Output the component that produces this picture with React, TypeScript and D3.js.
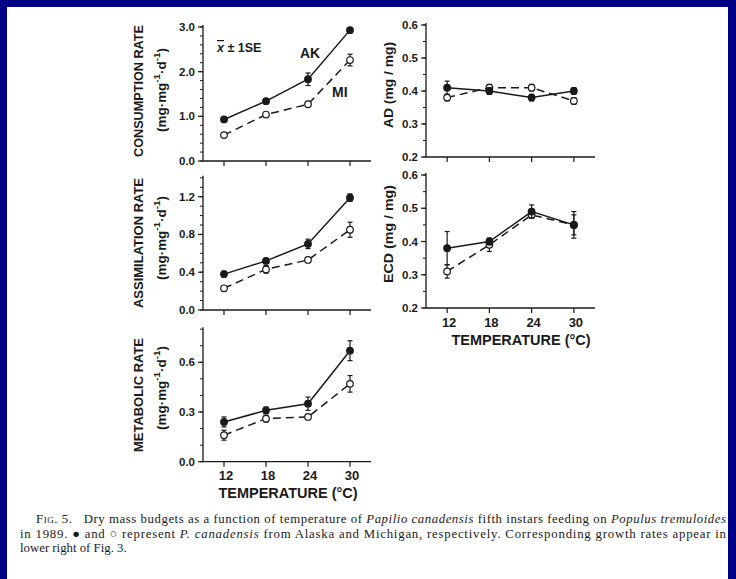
import React from 'react';
import * as d3 from 'd3';

// temperatures (°C)
const temps = [12, 18, 24, 30];

// consumption rate (mg·mg-1·d-1)
const consAK = [0.93, 1.34, 1.83, 2.93];
const consAKse = [0.05, 0.03, 0.14, 0.05];
const consMI = [0.58, 1.04, 1.27, 2.26];
const consMIse = [0.04, 0.03, 0.04, 0.13];

// assimilation rate
const assimAK = [0.38, 0.52, 0.7, 1.19];
const assimAKse = [0.03, 0.02, 0.05, 0.04];
const assimMI = [0.23, 0.43, 0.53, 0.85];
const assimMIse = [0.02, 0.04, 0.02, 0.08];

// metabolic rate
const metabAK = [0.24, 0.31, 0.35, 0.67];
const metabAKse = [0.03, 0.02, 0.04, 0.06];
const metabMI = [0.16, 0.26, 0.27, 0.47];
const metabMIse = [0.03, 0.02, 0.01, 0.05];

// AD (mg / mg)
const adAK = [0.41, 0.4, 0.38, 0.4];
const adAKse = [0.02, 0.01, 0.01, 0.01];
const adMI = [0.38, 0.41, 0.41, 0.37];
const adMIse = [0.01, 0.01, 0.01, 0.01];

// ECD (mg / mg)
const ecdAK = [0.38, 0.4, 0.49, 0.45];
const ecdAKse = [0.05, 0.01, 0.02, 0.04];
const ecdMI = [0.31, 0.39, 0.48, 0.45];
const ecdMIse = [0.02, 0.02, 0.01, 0.03];

const consTicks = [0, 1, 2, 3];
const assimTicks = [0, 0.4, 0.8, 1.2];
const metabTicks = [0, 0.3, 0.6];
const ratioTicks = [0.2, 0.3, 0.4, 0.5, 0.6];

const SANS = '"Liberation Sans", Arial, sans-serif';
const SERIF = '"Liberation Serif", "Times New Roman", serif';
const INK = '#1a1a1a';

const fmt = d3.format('.1f');

function Series({ x, y, vals, se, open }) {
  const line = d3
    .line()
    .x((d, i) => x(temps[i]))
    .y((d) => y(d));
  return (
    <g>
      <path
        d={line(vals)}
        fill="none"
        stroke={INK}
        strokeWidth={1.5}
        strokeDasharray={open ? '8,5' : null}
      />
      {vals.map((v, i) => (
        <g key={i}>
          <line x1={x(temps[i])} x2={x(temps[i])} y1={y(v - se[i])} y2={y(v + se[i])} stroke={INK} strokeWidth={1.2} />
          <line x1={x(temps[i]) - 2.5} x2={x(temps[i]) + 2.5} y1={y(v - se[i])} y2={y(v - se[i])} stroke={INK} strokeWidth={1.2} />
          <line x1={x(temps[i]) - 2.5} x2={x(temps[i]) + 2.5} y1={y(v + se[i])} y2={y(v + se[i])} stroke={INK} strokeWidth={1.2} />
          <circle
            cx={x(temps[i])}
            cy={y(v)}
            r={3.3}
            fill={open ? '#fff' : INK}
            stroke={INK}
            strokeWidth={1.2}
          />
        </g>
      ))}
    </g>
  );
}

function Panel({ xRange, yDomain, yRange, top, ticks, minor, xLabels, ak, akSe, mi, miSe }) {
  const x = d3.scaleLinear().domain([9, 33]).range(xRange);
  const y = d3.scaleLinear().domain(yDomain).range(yRange);
  const minorTicks = d3.range(yDomain[0], top + 1e-9, minor);
  const x0 = xRange[0];
  const yb = y(yDomain[0]);
  return (
    <g>
      <line x1={x0} x2={x0} y1={y(top) - 2} y2={yb} stroke={INK} strokeWidth={1.3} />
      <line x1={x0} x2={xRange[1]} y1={yb} y2={yb} stroke={INK} strokeWidth={1.3} />
      {minorTicks.map((t, i) => (
        <line key={'m' + i} x1={x0 - 3} x2={x0} y1={y(t)} y2={y(t)} stroke={INK} strokeWidth={1} />
      ))}
      {ticks.map((t) => (
        <g key={t}>
          <line x1={x0 - 5} x2={x0} y1={y(t)} y2={y(t)} stroke={INK} strokeWidth={1.2} />
          <text
            x={x0 - 8}
            y={y(t)}
            textAnchor="end"
            dominantBaseline="central"
            fontFamily={SANS}
            fontWeight="bold"
            fontSize={11.5}
            fill={INK}
          >
            {fmt(t)}
          </text>
        </g>
      ))}
      {temps.map((t) => (
        <g key={t}>
          <line x1={x(t)} x2={x(t)} y1={yb} y2={yb + 5} stroke={INK} strokeWidth={1.2} />
          {xLabels && (
            <text
              x={x(t) + 2}
              y={yb + 14}
              textAnchor="middle"
              dominantBaseline="central"
              fontFamily={SANS}
              fontWeight="bold"
              fontSize={13}
              fill={INK}
            >
              {t}
            </text>
          )}
        </g>
      ))}
      <Series x={x} y={y} vals={mi} se={miSe} open />
      <Series x={x} y={y} vals={ak} se={akSe} open={false} />
    </g>
  );
}

function YTitle({ x, y, len, children, size = 13.5 }) {
  return (
    <text
      transform={`translate(${x},${y}) rotate(-90)`}
      textAnchor="middle"
      dominantBaseline="central"
      fontFamily={SANS}
      fontWeight="bold"
      fontSize={size}
      textLength={len}
      lengthAdjust="spacingAndGlyphs"
      fill={INK}
    >
      {children}
    </text>
  );
}

function Units({ x, y }) {
  return (
    <YTitle x={x} y={y} len={84} size={13}>
      (mg·mg
      <tspan dy={-5} fontSize={9.5}>-1</tspan>
      <tspan dy={5}>·d</tspan>
      <tspan dy={-5} fontSize={9.5}>-1</tspan>
      <tspan dy={5}>)</tspan>
    </YTitle>
  );
}

export default function App() {
  const W = 736;
  const H = 579;
  return (
    <svg
      width={W}
      height={H}
      style={{ position: 'absolute', left: 0, top: 0, display: 'block' }}
    >
      <rect x={0} y={0} width={W} height={H} fill="#000086" />
      <rect x={7} y={7} width={W - 15} height={H - 7} fill="#fff" />

      {/* consumption */}
      <Panel
        xRange={[203, 371]}
        yDomain={[0, 3]}
        yRange={[161, 27]}
        top={3}
        ticks={consTicks}
        minor={0.2}
        xLabels={false}
        ak={consAK}
        akSe={consAKse}
        mi={consMI}
        miSe={consMIse}
      />
      <YTitle x={138} y={91} len={132}>CONSUMPTION RATE</YTitle>
      <Units x={161} y={90} />
      <text x={217} y={48} dominantBaseline="central" fontFamily={SANS} fontWeight="bold" fontSize={12.5} fill={INK}>
        <tspan fontStyle="italic" textDecoration="overline">x</tspan> ± 1SE
      </text>
      <text x={300} y={53} dominantBaseline="central" fontFamily={SANS} fontWeight="bold" fontSize={14} fill={INK}>AK</text>
      <text x={332} y={92} dominantBaseline="central" fontFamily={SANS} fontWeight="bold" fontSize={14} fill={INK}>MI</text>

      {/* AD */}
      <Panel
        xRange={[426, 595]}
        yDomain={[0.2, 0.6]}
        yRange={[157, 25]}
        top={0.6}
        ticks={ratioTicks}
        minor={0.05}
        xLabels={false}
        ak={adAK}
        akSe={adAKse}
        mi={adMI}
        miSe={adMIse}
      />
      <YTitle x={388} y={85} len={86}>AD  (mg / mg)</YTitle>

      {/* assimilation */}
      <Panel
        xRange={[203, 371]}
        yDomain={[0, 1.2]}
        yRange={[310, 196.7]}
        top={1.4}
        ticks={assimTicks}
        minor={0.1}
        xLabels={false}
        ak={assimAK}
        akSe={assimAKse}
        mi={assimMI}
        miSe={assimMIse}
      />
      <YTitle x={138} y={243} len={130}>ASSIMILATION RATE</YTitle>
      <Units x={161} y={238} />

      {/* ECD */}
      <Panel
        xRange={[426, 595]}
        yDomain={[0.2, 0.6]}
        yRange={[308, 175]}
        top={0.6}
        ticks={ratioTicks}
        minor={0.05}
        xLabels
        ak={ecdAK}
        akSe={ecdAKse}
        mi={ecdMI}
        miSe={ecdMIse}
      />
      <YTitle x={388} y={234} len={98}>ECD  (mg / mg)</YTitle>
      <text x={521} y={340} textAnchor="middle" dominantBaseline="central" fontFamily={SANS} fontWeight="bold" fontSize={14.5} fill={INK}>
        TEMPERATURE (°C)
      </text>

      {/* metabolic */}
      <Panel
        xRange={[203, 371]}
        yDomain={[0, 0.6]}
        yRange={[461.7, 362.3]}
        top={0.8}
        ticks={metabTicks}
        minor={0.1}
        xLabels
        ak={metabAK}
        akSe={metabAKse}
        mi={metabMI}
        miSe={metabMIse}
      />
      <YTitle x={138} y={395} len={114}>METABOLIC  RATE</YTitle>
      <Units x={161} y={388} />
      <text x={288} y={493} textAnchor="middle" dominantBaseline="central" fontFamily={SANS} fontWeight="bold" fontSize={14.5} fill={INK}>
        TEMPERATURE (°C)
      </text>

      {/* caption */}
      <g fontFamily={SERIF} fontSize={12.8} fill={INK}>
        <text x={36} y={523} textLength={690} lengthAdjust="spacing">
          <tspan fontVariant="small-caps">Fig</tspan>. 5.{'\u00a0\u00a0 '}Dry mass budgets as a function of temperature of{' '}
          <tspan fontStyle="italic">Papilio canadensis</tspan> fifth instars feeding on{' '}
          <tspan fontStyle="italic">Populus tremuloides</tspan>
        </text>
        <text x={20} y={537.5} textLength={706} lengthAdjust="spacing">
          in 1989. ● and ○ represent <tspan fontStyle="italic">P. canadensis</tspan> from Alaska and Michigan, respectively.
          Corresponding growth rates appear in
        </text>
        <text x={20} y={552}>lower right of Fig. 3.</text>
      </g>
    </svg>
  );
}
